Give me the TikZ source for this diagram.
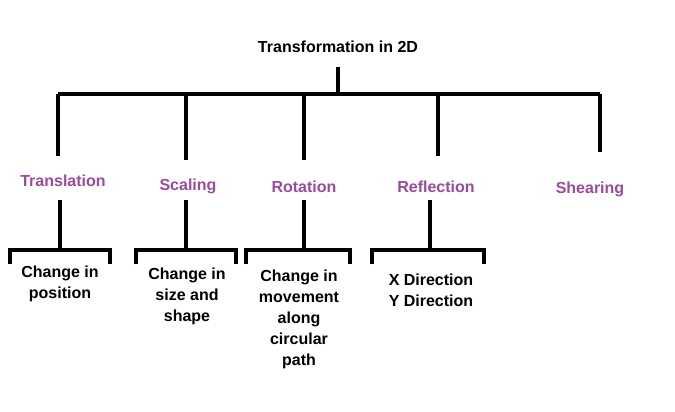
\documentclass[tikz,border=0pt]{standalone}
\usepackage{fontspec}
\setmainfont{Liberation Sans}
\usetikzlibrary{positioning}
\definecolor{kind}{HTML}{9B4A9E}
\tikzset{title/.style = {font=\bfseries\fontsize{16}{21}\selectfont, text=black},
  kind/.style = {font=\bfseries\fontsize{16}{21}\selectfont, text=kind},
  note/.style = {font=\bfseries\fontsize{16}{21}\selectfont, align=center, anchor=north, inner sep=0pt},
  line/.style = {draw, line width=4pt}}

\begin{document}
\begin{tikzpicture}[x=1pt,y=-1pt]
\useasboundingbox (0,0) rectangle (675,412);

\node [title] (root) at (338,47) {Transformation in 2D};
\coordinate (top) at (338,67);
\coordinate (mid) at (338,94);
\coordinate (bl) at (58,94);
\coordinate (br) at (600,94);

\node [kind] (trans) at (63,181) {Translation};
\node [kind] (scal) at (188,186) {Scaling};
\node [kind] (rot) at (304,187) {Rotation};
\node [kind] (refl) at (436,187) {Reflection};
\node [kind] (shear) at (590,189) {Shearing};

\path [line] (top) -- (mid);
\path [line] (bl) -- (br);
\path [line] (58,94) -- (58,156);
\path [line] (186,94) -- (186,160);
\path [line] (304,94) -- (304,160);
\path [line] (438,94) -- (438,156);
\path [line] (600,94) -- (600,152);

% brackets below
\foreach \x/\l/\r/\k in {60/10/110/trans, 186/136/236/scal, 304/246/350/rot, 430/372/484/refl}
{
  \path [line] (\x,200) -- (\x,250);
  \path [line] (\l,264) -- (\l,250) -- (\r,250) -- (\r,264);
}

\node [note] (pos) at (60,266) {Change in\\position};
\node [note] (size) at (187,268) {Change in\\size and\\shape};
\node [note] (circ) at (299,270) {Change in\\movement\\along\\circular\\path};
\node [note] (dir) at (431,274) {X Direction\\Y Direction};

\end{tikzpicture}
\end{document}
